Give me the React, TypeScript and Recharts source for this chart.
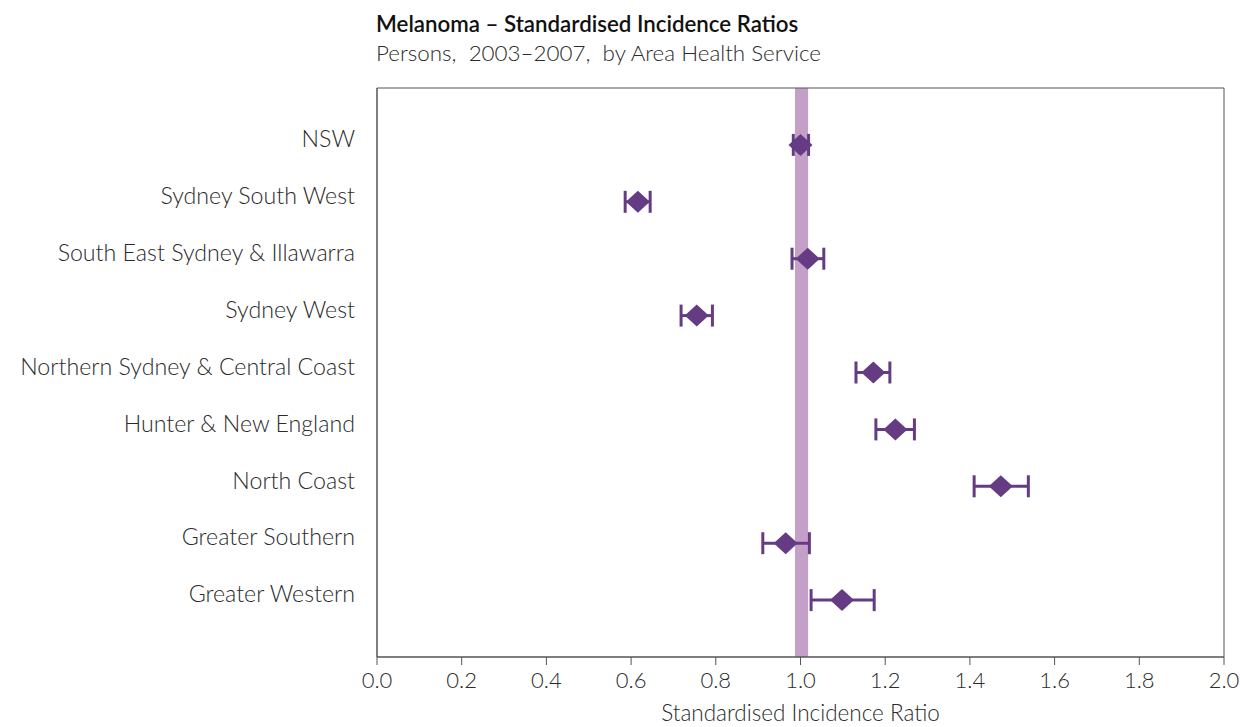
import React from "react";
import {
  ScatterChart,
  Scatter,
  XAxis,
  YAxis,
  ErrorBar,
  ReferenceArea,
} from "recharts";

const categories = [
  "NSW",
  "Sydney South West",
  "South East Sydney & Illawarra",
  "Sydney West",
  "Northern Sydney & Central Coast",
  "Hunter & New England",
  "North Coast",
  "Greater Southern",
  "Greater Western",
];
const sirValues = [1.0, 0.616, 1.017, 0.755, 1.172, 1.224, 1.473, 0.965, 1.098];
const lowerCI = [0.983, 0.586, 0.98, 0.718, 1.131, 1.178, 1.41, 0.911, 1.025];
const upperCI = [1.019, 0.645, 1.055, 0.792, 1.211, 1.269, 1.538, 1.021, 1.174];
const xTicks = [0, 0.2, 0.4, 0.6, 0.8, 1.0, 1.2, 1.4, 1.6, 1.8, 2.0];
const nswBandLow = 0.987;
const nswBandHigh = 1.018;

const data = categories.map((name, i) => ({
  name,
  pos: i + 1,
  sir: sirValues[i],
  err: [sirValues[i] - lowerCI[i], upperCI[i] - sirValues[i]],
}));
const yTicks = data.map((d) => d.pos);

const PURPLE = "#653c83";
const FONT = "Lato, 'Open Sans', sans-serif";

const Diamond = (props: any) => {
  const { cx, cy } = props;
  if (cx == null || cy == null) return null;
  const w = 12;
  const h = 11;
  return (
    <polygon
      points={`${cx - w},${cy} ${cx},${cy - h} ${cx + w},${cy} ${cx},${cy + h}`}
      fill={PURPLE}
    />
  );
};

const YTick = (props: any) => {
  const { x, y, payload } = props;
  return (
    <text
      x={x}
      y={y - 6}
      dy="0.355em"
      textAnchor="end"
      fill="#2b2b2b"
      fontSize={23.2}
      fontWeight={300}
      fontFamily={FONT}
    >
      {categories[payload.value - 1] ?? ""}
    </text>
  );
};

export default function App() {
  return (
    <div
      style={{
        position: "absolute",
        left: 0,
        top: 0,
        width: 1240,
        height: 727,
        background: "#fff",
        fontFamily: FONT,
      }}
    >
      <div
        style={{
          position: "absolute",
          left: 376,
          top: 10,
          fontSize: 22.3,
          fontWeight: 600,
          color: "#111",
          whiteSpace: "pre",
        }}
      >
        Melanoma – Standardised Incidence Ratios
      </div>
      <div
        style={{
          position: "absolute",
          left: 376,
          top: 39,
          fontSize: 22.4,
          fontWeight: 300,
          color: "#2b2b2b",
          whiteSpace: "pre",
        }}
      >
        {"Persons,  2003–2007,  by Area Health Service"}
      </div>
      <ScatterChart
        width={1240}
        height={727}
        margin={{ top: 88, right: 16, bottom: 0, left: 0 }}
        style={{ position: "absolute", left: 0, top: 0 }}
      >
        <XAxis
          type="number"
          dataKey="sir"
          domain={[0, 2]}
          ticks={xTicks}
          tickFormatter={(v: number) => v.toFixed(1)}
          height={70}
          tickSize={8}
          tickMargin={7}
          stroke="#555"
          tick={{ fill: "#2b2b2b", fontSize: 22, fontWeight: 300, fontFamily: FONT }}
          allowDataOverflow
          label={{
            value: "Standardised Incidence Ratio",
            position: "insideBottom",
            offset: 6,
            fill: "#2b2b2b",
            fontSize: 22.5,
            fontWeight: 300,
            fontFamily: FONT,
          }}
        />
        <YAxis
          type="number"
          dataKey="pos"
          domain={[0, 10]}
          reversed
          ticks={yTicks}
          interval={0}
          width={377}
          tickSize={0}
          tickMargin={22}
          tickLine={false}
          stroke="#555"
          tick={<YTick />}
          allowDataOverflow
        />
        <ReferenceArea
          x1={nswBandLow}
          x2={nswBandHigh}
          y1={0}
          y2={10}
          fill="#c4a0c8"
          fillOpacity={1}
          stroke="none"
          ifOverflow="hidden"
        />
        <ReferenceArea
          x1={0}
          x2={2}
          y1={0}
          y2={10}
          fill="none"
          stroke="#555"
          strokeWidth={1}
        />
        <Scatter
          data={data}
          dataKey="sir"
          isAnimationActive={false}
          shape={<Diamond />}
          fill={PURPLE}
        >
          <ErrorBar
            dataKey="err"
            direction="x"
            width={11}
            stroke={PURPLE}
            strokeWidth={3}
            isAnimationActive={false}
          />
        </Scatter>
      </ScatterChart>
    </div>
  );
}
